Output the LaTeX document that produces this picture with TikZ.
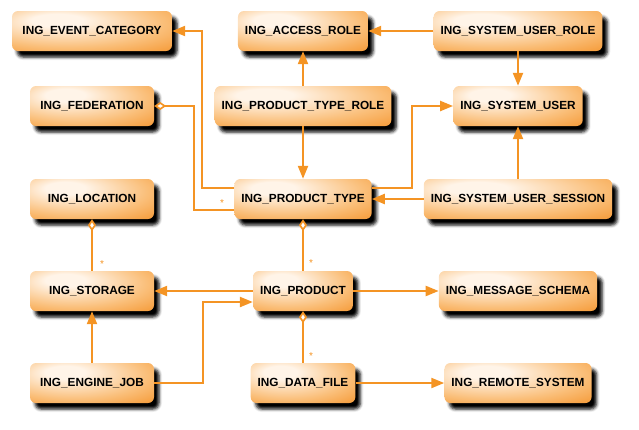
\documentclass[tikz,border=0pt]{standalone}
\usepackage{fontspec}
\setmainfont{Liberation Sans}
\usetikzlibrary{positioning,arrows.meta,shadows.blur}

\definecolor{ingpale}{RGB}{255,244,232}
\definecolor{ingmid}{RGB}{250,190,120}
\definecolor{ingorange}{RGB}{243,140,30}
\definecolor{ingline}{RGB}{244,148,36}
\pgfdeclareradialshading{ingshade}{\pgfpoint{-12bp}{15bp}}{%
  color(0bp)=(ingpale); color(8bp)=(ingpale); color(30bp)=(ingmid);
  color(50bp)=(ingorange); color(80bp)=(ingorange)}

\begin{document}
\begin{tikzpicture}[on grid,
	entity/.style={shading=ingshade, rounded corners=6pt,
		minimum height=40pt, inner xsep=7pt,
		font=\fontsize{11.8}{14}\selectfont\bfseries,
		blur shadow={shadow xshift=5pt, shadow yshift=-6pt,
			shadow blur radius=3pt, shadow opacity=100}},
	leftcol/.style={entity, minimum width=124pt},
	conn/.style={draw=ingline, line width=2.2pt},
	arr/.style={conn, -{Triangle[length=13pt,width=10pt]}},
	aggr/.style={conn, -{Diamond[length=12pt,width=8pt,fill=white,line width=1.7pt]}},
	mult/.style={text=ingline, inner sep=0pt, font=\normalsize}]
	\useasboundingbox (0,0) rectangle (639pt,-429pt);

	\node[entity, minimum width=160pt] (event) at (92pt,-31pt) {ING\_EVENT\_CATEGORY};
	\node[entity] (access) [right=211pt of event] {ING\_ACCESS\_ROLE};
	\node[entity] (suserrole) [right=215pt of access] {ING\_SYSTEM\_USER\_ROLE};

	\node[leftcol] (fed) [below=75pt of event] {ING\_FEDERATION};
	\node[entity] (ptrole) [below=75pt of access] {ING\_PRODUCT\_TYPE\_ROLE};
	\node[entity] (suser) [below=75pt of suserrole] {ING\_SYSTEM\_USER};

	\node[leftcol] (location) [below=93pt of fed] {ING\_LOCATION};
	\node[entity] (ptype) [below=93pt of ptrole] {ING\_PRODUCT\_TYPE};
	\node[entity] (session) [below=93pt of suser] {ING\_SYSTEM\_USER\_SESSION};

	\node[leftcol] (storage) [below=92pt of location] {ING\_STORAGE};
	\node[entity] (product) [below=92pt of ptype] {ING\_PRODUCT};
	\node[entity] (msgschema) [below=92pt of session] {ING\_MESSAGE\_SCHEMA};

	\node[leftcol] (ejob) [below=92pt of storage] {ING\_ENGINE\_JOB};
	\node[entity] (datafile) [below=92pt of product] {ING\_DATA\_FILE};
	\node[entity] (remote) [below=92pt of msgschema] {ING\_REMOTE\_SYSTEM};

	% straight links
	\draw[arr] (ptrole) -- (access);
	\draw[arr] (ptrole) -- (ptype);
	\draw[arr] (suserrole) -- (access);
	\draw[arr] (suserrole) -- (suser);
	\draw[arr] (session) -- (ptype);
	\draw[arr] (session) -- (suser);
	\draw[arr] (product) -- (storage);
	\draw[arr] (product) -- (msgschema);
	\draw[arr] (ejob) -- (storage);
	\draw[arr] (datafile) -- (remote);

	\draw[aggr] (storage) -- (location);
	\draw[aggr] (product) -- (ptype);
	\draw[aggr] (datafile) -- (product);

	% bent links
	\draw[arr] ([yshift=11pt]ptype.west) -- ++(-32pt,0) |- (event.east);
	\draw[aggr] ([yshift=-11pt]ptype.west) -- ++(-40pt,0) |- (fed.east);
	\draw[arr] ([yshift=11pt]ptype.east) -- ++(40pt,0) |- (suser.west);
	\draw[arr] (ejob.east) -- ++(49pt,0) |- ([yshift=-11pt]product.west);

	% multiplicities
	\node[mult] (m_pt) at ([xshift=-12pt,yshift=-4pt]ptype.west) {*};
	\node[mult] (m_st) at ([xshift=10pt,yshift=7pt]storage.north) {*};
	\node[mult] (m_pr) at ([xshift=8pt,yshift=8pt]product.north) {*};
	\node[mult] (m_df) at ([xshift=8pt,yshift=7pt]datafile.north) {*};
\end{tikzpicture}
\end{document}
